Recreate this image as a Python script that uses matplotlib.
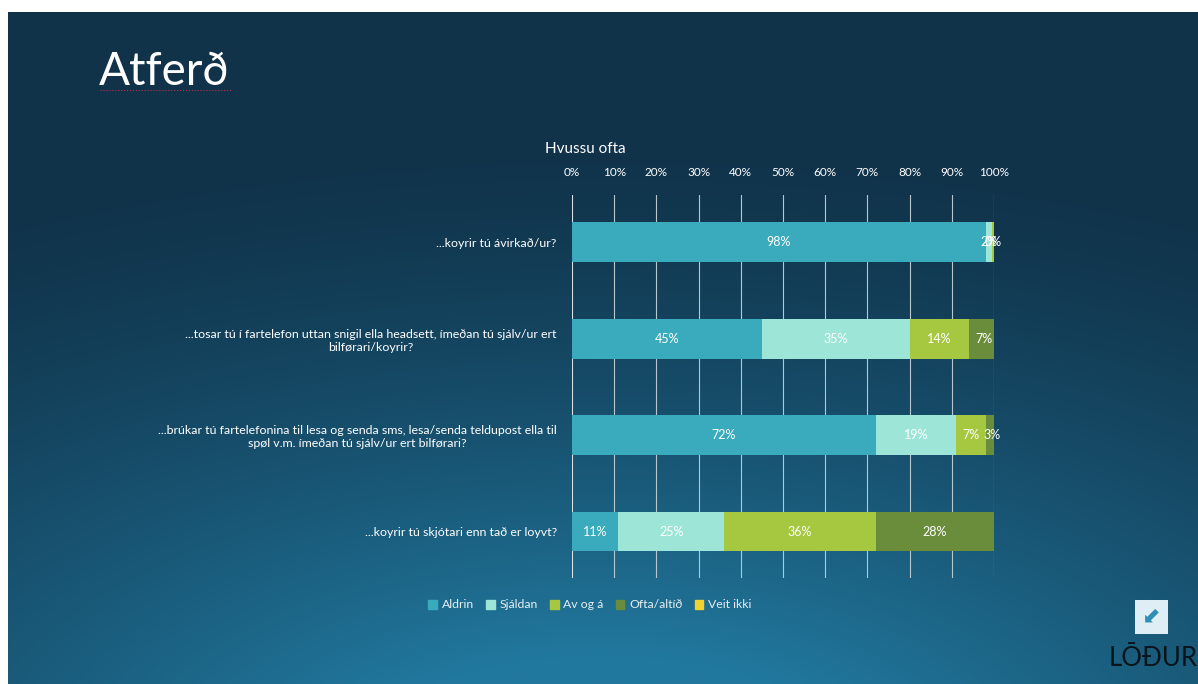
import numpy as np
import matplotlib
matplotlib.use("Agg")
import matplotlib.pyplot as plt
from matplotlib.patches import Rectangle, Patch

plt.rcParams['font.family'] = ['Lato', 'DejaVu Sans']

# data
questions = [
    "...koyrir tú ávirkað/ur?",
    "...tosar tú í fartelefon uttan snigil ella headsett, ímeðan tú sjálv/ur ert\nbilførari/koyrir?",
    "...brúkar tú fartelefonina til lesa og senda sms, lesa/senda teldupost ella til\nspøl v.m. ímeðan tú sjálv/ur ert bilførari?",
    "...koyrir tú skjótari enn tað er loyvt?",
]
categories = ["Aldrin", "Sjáldan", "Av og á", "Ofta/altíð", "Veit ikki"]
aldrin = [98, 45, 72, 11]
sjaldan = [1.6, 35, 19, 25]
av_og_a = [0.4, 14, 7, 36]
ofta = [0, 7, 3, 28]
veit_ikki = [0, 0, 0, 0]
series = [aldrin, sjaldan, av_og_a, ofta, veit_ikki]
colors = ["#3aabbd", "#9de5d6", "#a5c840", "#6a8d3b", "#f2d22e"]

W, H = 1198, 684
fig = plt.figure(figsize=(W / 100, H / 100), dpi=100)
fig.patch.set_facecolor("white")

# gradient background
bg = fig.add_axes([8 / W, 0, (W - 8) / W, (H - 12) / H])
yy, xx = np.mgrid[0:1:300j, 0:1:500j]
d = np.sqrt(((xx - 0.5) * 1.1) ** 2 + ((yy - 1.15) * 1.3) ** 2)
f = np.clip(1.25 - d, 0, 1) ** 1.4
dark = np.array([0x10, 0x33, 0x4a]) / 255
light = np.array([0x21, 0x78, 0x9e]) / 255
img = dark + (light - dark) * f[..., None]
bg.imshow(img, aspect="auto", extent=[0, 1, 1, 0])
bg.axis("off")

ax = fig.add_axes([572 / W, 1 - 578 / H, 422 / W, 383 / H])
ax.set_facecolor("none")
y = np.arange(len(questions))
left = np.zeros(len(questions))
for vals, col, name in zip(series, colors, categories):
    vals = np.array(vals, dtype=float)
    ax.barh(y, vals, left=left, height=0.41, color=col, label=name, zorder=3)
    for yi, (l, v) in enumerate(zip(left, vals)):
        if v > 0:
            ax.text(l + v / 2, yi, f"{v:.0f}%", ha="center", va="center",
                    color="white", fontsize=9, zorder=4)
    left += vals

ax.set_xlim(0, 100)
ax.set_ylim(3.48, -0.49)
ax.set_xticks(np.arange(0, 101, 10))
ax.set_xticklabels([f"{v}%" for v in range(0, 101, 10)])
ax.xaxis.tick_top()
ax.tick_params(axis="x", length=0, pad=12, labelsize=8.5, colors="white")
ax.set_yticks(y)
ax.set_yticklabels(questions)
ax.tick_params(axis="y", length=0, pad=11, labelsize=8.9, colors="white")
for t in ax.get_yticklabels():
    t.set_multialignment("center")
ax.grid(axis="x", color="#b8c6ce", linewidth=0.8, zorder=0)
for s in ax.spines.values():
    s.set_visible(False)
ax.axvline(0, color="#dfe8ec", linewidth=1.2, zorder=2)

fig.text(545 / W, 1 - 149 / H, "Hvussu ofta", color="white", fontsize=11,
         ha="left", va="center")

handles = [Patch(color=c, label=n) for c, n in zip(colors, categories)]
fig.legend(handles=handles, loc="center", bbox_to_anchor=(590 / W, 1 - 605 / H),
           ncol=5, frameon=False, fontsize=8.8, labelcolor="#e6eef2",
           handlelength=0.7, handleheight=0.7, handletextpad=0.4,
           columnspacing=1.0)

# slide title
fig.text(99 / W, 1 - 72 / H, "Atferð", color="white", fontsize=33,
         ha="left", va="center")
fig.add_artist(plt.Line2D([100 / W, 232 / W], [1 - 90 / H, 1 - 90 / H],
                          color="#c0304a", linewidth=0.8, linestyle=":"))

# logo
fig.add_artist(Rectangle((1135 / W, 1 - 634 / H), 33 / W, 34 / H,
                         facecolor="#dfeef5", edgecolor="none"))
fig.text(1151.5 / W, 1 - 617 / H, "⬋", color="#2f8fb7", fontsize=16,
         ha="center", va="center", family=["DejaVu Sans"])
fig.text(1153 / W, 1 - 659 / H, "LŌÐUR", color="#08141c", fontsize=18.5,
         ha="center", va="center")

fig.savefig("out.png", dpi=100, facecolor=fig.get_facecolor())
